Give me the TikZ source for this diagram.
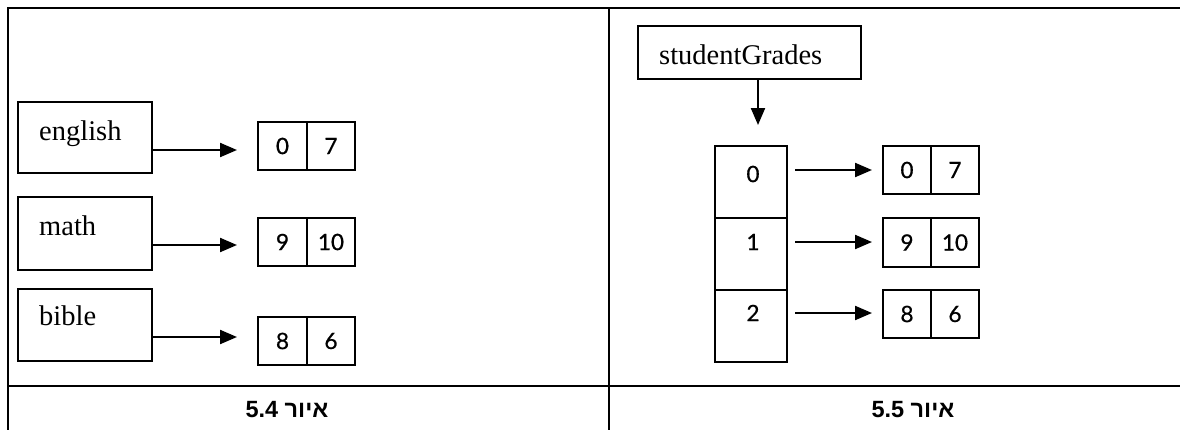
\documentclass[tikz,border=0pt]{standalone}
\usepackage{fontspec}
\setmainfont{Liberation Serif}
\newfontfamily\digfont[FakeBold=0.8]{Lato}
\newfontfamily\hebfont[Script=Hebrew]{Liberation Sans}
\TeXXeTstate=1
\usetikzlibrary{arrows.meta}
\tikzset{
  frameline/.style={line width=2pt},
  varbox/.style={draw, line width=2pt, inner sep=0pt, outer sep=0pt, rectangle},
  cell/.style={draw, line width=1.5pt, inner sep=0pt, outer sep=0pt, rectangle, font=\digfont\fontsize{22.5}{22.5}\selectfont},
  vlabel/.style={inner sep=0pt, anchor=base west, font=\fontsize{28.5}{30}\selectfont},
  dig/.style={inner sep=0pt, font=\digfont\fontsize{22.5}{22.5}\selectfont},
  arr/.style={line width=2.2pt, -{Triangle[length=17pt,width=14pt]}},
  figcap/.style={inner sep=0pt, font=\hebfont\bfseries\fontsize{23.5}{23.5}\selectfont}
}
\begin{document}
\begin{tikzpicture}[x=1pt,y=-1pt]
\useasboundingbox (0,0) rectangle (1180,429);
% frame
\coordinate (tl) at (8,8);
\coordinate (tr) at (1181,8);
\coordinate (bl) at (8,430);
\coordinate (mt) at (609,8);
\coordinate (mb) at (609,430);
\coordinate (hl) at (8,386);
\coordinate (hr) at (1181,386);
\draw[frameline] (bl) -- (tl) -- (tr);
\draw[frameline] (mt) -- (mb);
\draw[frameline] (hl) -- (hr);

% ---------- left panel ----------
\node[varbox, minimum width=134pt, minimum height=71pt] (english) at (85,137.5) {};
\node[varbox, minimum width=134pt, minimum height=73pt] (math) at (85,233.5) {};
\node[varbox, minimum width=134pt, minimum height=72pt] (bible) at (85,325) {};
\node[vlabel] (englishT) at (39,140) {english};
\node[vlabel] (mathT) at (39,235) {math};
\node[vlabel] (bibleT) at (39,325) {bible};

\node[cell, minimum width=49pt, minimum height=48pt] (a1a) at (282.5,146) {0};
\node[cell, minimum width=48pt, minimum height=48pt, anchor=west] (a1b) at (a1a.east) {7};
\node[cell, minimum width=49pt, minimum height=48pt] (a2a) at (282.5,242) {9};
\node[cell, minimum width=48pt, minimum height=48pt, anchor=west] (a2b) at (a2a.east) {10};
\node[cell, minimum width=49pt, minimum height=48pt] (a3a) at (282.5,341) {8};
\node[cell, minimum width=48pt, minimum height=48pt, anchor=west] (a3b) at (a3a.east) {6};

\coordinate (e1) at (237,150);
\coordinate (e2) at (237,245);
\coordinate (e3) at (237,337);
\draw[arr] (english.east |- e1) -- (e1);
\draw[arr] (math.east |- e2) -- (e2);
\draw[arr] (bible.east |- e3) -- (e3);

% ---------- right panel ----------
\node[varbox, minimum width=223pt, minimum height=53pt] (sg) at (749.5,52.5) {};
\node[vlabel] (sgT) at (659,64) {studentGrades};
\coordinate (sgend) at (758,125);
\draw[arr] (sg.south -| sgend) -- (sgend);

\node[varbox, minimum width=72pt, minimum height=72pt] (c0) at (751,182) {};
\node[varbox, minimum width=72pt, minimum height=72pt, anchor=north] (c1) at (c0.south) {};
\node[varbox, minimum width=72pt, minimum height=72pt, anchor=north] (c2) at (c1.south) {};
\node[dig] (c0T) at (753,174) {0};
\node[dig] (c1T) at (753,242) {1};
\node[dig] (c2T) at (753,313) {2};

\node[cell, minimum width=48pt, minimum height=48pt] (b1a) at (907,170) {0};
\node[cell, minimum width=48pt, minimum height=48pt, anchor=west] (b1b) at (b1a.east) {7};
\node[cell, minimum width=48pt, minimum height=49pt] (b2a) at (907,242.5) {9};
\node[cell, minimum width=48pt, minimum height=49pt, anchor=west] (b2b) at (b2a.east) {10};
\node[cell, minimum width=48pt, minimum height=48pt] (b3a) at (907,314) {8};
\node[cell, minimum width=48pt, minimum height=48pt, anchor=west] (b3b) at (b3a.east) {6};

\coordinate (r1) at (872,170);
\coordinate (r2) at (872,242);
\coordinate (r3) at (872,313);
\draw[arr, shorten <=8pt] (c0.east |- r1) -- (r1);
\draw[arr, shorten <=8pt] (c1.east |- r2) -- (r2);
\draw[arr, shorten <=8pt] (c2.east |- r3) -- (r3);

% captions
\node[figcap] (cap1) at (287,410) {\beginR איור \beginL5.4\endL\endR};
\node[figcap] (cap2) at (913,410) {\beginR איור \beginL5.5\endL\endR};
\end{tikzpicture}
\end{document}
